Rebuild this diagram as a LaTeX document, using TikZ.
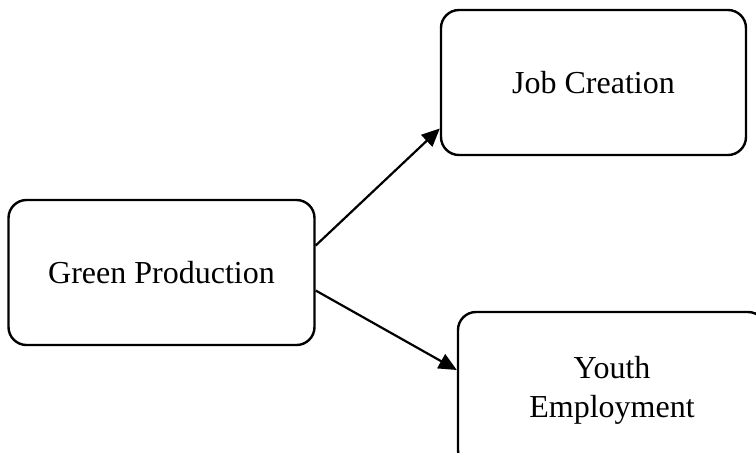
\documentclass[tikz,border=0pt]{standalone}
\usepackage{fontspec}
\setmainfont{Liberation Serif}
\usetikzlibrary{positioning, arrows.meta}

\begin{document}
\begin{tikzpicture}[
    x=0.5pt, y=-0.5pt,
    >={Triangle[length=9pt, width=8pt]},
    box/.style={draw, line width=1.2pt, rounded corners=9pt, align=center,
        minimum width=153pt, minimum height=72.5pt,
        font=\fontsize{16}{19.5}\selectfont},
    link/.style={->, line width=1.1pt}
]
    % bounding box of the page
    \useasboundingbox (0,0) rectangle (756,452);

    % boxes
    \node[box] (green) at (161.5,272.5) {Green Production};
    \node[box, minimum width=152.5pt] (job) at (593.5,82.5) {Job Creation};
    \node[box, minimum width=154pt, minimum height=78pt] (youth) at (612,390) {Youth\\Employment};

    % arrows
    \draw[link] ([yshift=13.5pt]green.east) -- ([yshift=-23pt]job.west);
    \draw[link] ([yshift=-9pt]green.east) -- ([yshift=10pt]youth.west);
\end{tikzpicture}
\end{document}
